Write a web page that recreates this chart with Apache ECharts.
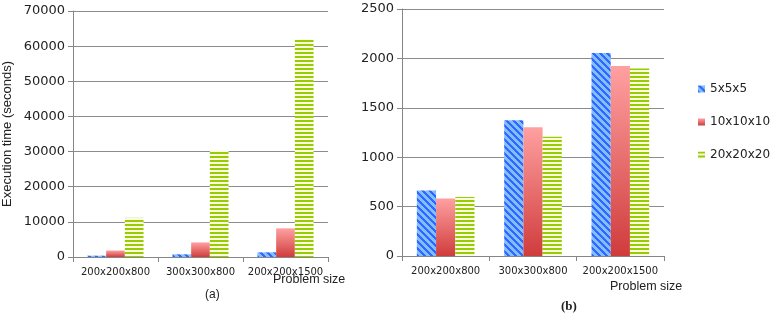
<!DOCTYPE html>
<html>
<head>
<meta charset="utf-8">
<script src="https://cdn.jsdelivr.net/npm/echarts@6/dist/echarts.min.js"></script>
<style>
  html, body { margin: 0; padding: 0; background: #fff; }
  #chart { width: 778px; height: 325px; }
</style>
</head>
<body>
<div id="chart"></div>
<script>
const categories = ['200x200x800', '300x300x800', '200x200x1500'];
const seriesNames = ['5x5x5', '10x10x10', '20x20x20'];

// (a) execution time, seconds
const timeA5 = [380, 760, 1330];
const timeA10 = [1850, 4150, 8150];
const timeA20 = [11150, 30400, 61900];

// (b) execution time, seconds
const timeB5 = [662, 1375, 2054];
const timeB10 = [582, 1304, 1922];
const timeB20 = [596, 1206, 1898];

const yTicksA = { min: 0, max: 70000, interval: 10000 };
const yTicksB = { min: 0, max: 2500, interval: 500 };

// little tiles for the bar fills
function makeTile(n, paint) {
  const c = document.createElement('canvas');
  c.width = n; c.height = n;
  const ctx = c.getContext('2d');
  const img = ctx.createImageData(n, n);
  for (let y = 0; y < n; y++) {
    for (let x = 0; x < n; x++) {
      const col = paint(x, y);
      const i = (y * n + x) * 4;
      img.data[i] = col[0]; img.data[i + 1] = col[1]; img.data[i + 2] = col[2]; img.data[i + 3] = 255;
    }
  }
  ctx.putImageData(img, 0, 0);
  return c;
}

const blueTile = makeTile(7, (x, y) => (((x - y) % 7 + 7) % 7) < 3 ? [51, 102, 255] : [128, 191, 255]);
const greenTile = makeTile(4, (x, y) => y < 2 ? [153, 204, 0] : [250, 250, 228]);

const blueFill = { image: blueTile, repeat: 'repeat' };
const greenFill = { image: greenTile, repeat: 'repeat' };
const redFill = new echarts.graphic.LinearGradient(0, 0, 0, 1, [
  { offset: 0, color: '#ffa0a0' },
  { offset: 1, color: '#d03c3c' }
]);

const fills = [blueFill, redFill, greenFill];
const font = 'DejaVu Sans';
const axisGrey = '#868686';

function xAxisFor(idx) {
  return {
    type: 'category',
    gridIndex: idx,
    data: categories,
    axisLine: { lineStyle: { color: axisGrey } },
    axisTick: { show: true, length: 5, lineStyle: { color: axisGrey } },
    axisLabel: { color: '#222', fontFamily: font, fontSize: 10, margin: 10, interval: 0 }
  };
}

function yAxisFor(idx, t) {
  return {
    type: 'value',
    gridIndex: idx,
    min: t.min, max: t.max, interval: t.interval,
    axisLine: { show: true, lineStyle: { color: axisGrey } },
    axisTick: { show: true, length: 5, lineStyle: { color: axisGrey } },
    splitLine: { lineStyle: { color: '#8c8c8c', width: 1 } },
    axisLabel: { color: '#222', fontFamily: font, fontSize: 13, margin: 8, formatter: v => String(v) }
  };
}

function barsFor(idx, lists) {
  return lists.map((vals, i) => ({
    name: seriesNames[i],
    type: 'bar',
    xAxisIndex: idx,
    yAxisIndex: idx,
    data: vals,
    barGap: '0%',
    barCategoryGap: '34%',
    itemStyle: { color: fills[i] }
  }));
}

const chart = echarts.init(document.getElementById('chart'));

chart.setOption({
  animation: false,
  textStyle: { fontFamily: font },
  grid: [
    { left: 73, top: 11, width: 255, height: 246 },
    { left: 402, top: 9, width: 262, height: 247 }
  ],
  xAxis: [xAxisFor(0), xAxisFor(1)],
  yAxis: [
    Object.assign(yAxisFor(0, yTicksA), {
      name: 'Execution time (seconds)',
      nameLocation: 'middle',
      nameGap: 59,
      nameTextStyle: { fontFamily: 'Liberation Sans', fontSize: 13, color: '#222' }
    }),
    yAxisFor(1, yTicksB)
  ],
  legend: {
    data: seriesNames.map(n => ({ name: n, icon: 'rect' })),
    orient: 'vertical',
    left: 693,
    top: 78,
    itemWidth: 7,
    itemHeight: 7,
    itemGap: 21,
    textStyle: { fontFamily: font, fontSize: 12, color: '#222' }
  },
  graphic: [
    { type: 'text', left: 273, top: 273, style: { text: 'Problem size', font: '12.5px "Liberation Sans"', fill: '#222' } },
    { type: 'text', left: 205, top: 289, style: { text: '(a)', font: '12px "Liberation Sans"', fill: '#222' } },
    { type: 'text', left: 610, top: 280, style: { text: 'Problem size', font: '12.5px "Liberation Sans"', fill: '#222' } },
    { type: 'text', left: 561, top: 300, style: { text: '(b)', font: 'bold 13px "Liberation Serif"', fill: '#222' } }
  ],
  series: barsFor(0, [timeA5, timeA10, timeA20]).concat(barsFor(1, [timeB5, timeB10, timeB20]))
});
</script>
</body>
</html>
